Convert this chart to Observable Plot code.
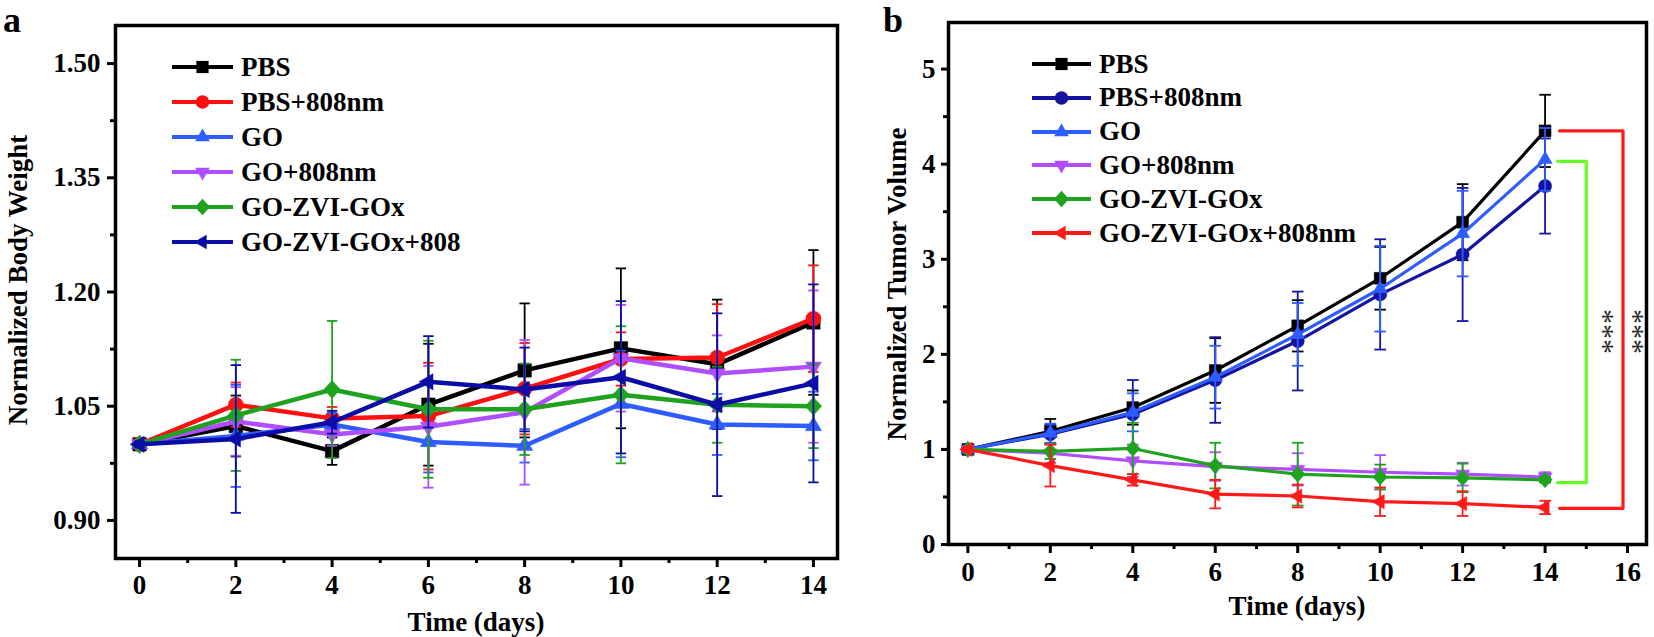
<!DOCTYPE html>
<html><head><meta charset="utf-8">
<script src="https://cdn.jsdelivr.net/npm/d3@7"></script>
<script src="https://cdn.jsdelivr.net/npm/@observablehq/plot@0.6"></script>
<style>
body{margin:0;background:#fff}
#fig{position:relative;width:1654px;height:637px;overflow:hidden;font-family:"Liberation Serif","Times New Roman",serif;font-weight:bold;color:#000;background:#fff}
.panel{position:absolute;top:0}
.t{position:absolute;transform:translate(-50%,-50%);white-space:nowrap;font-size:27px;line-height:1}
.leg{position:absolute;display:flex;align-items:center;height:30px;font-size:27px;white-space:nowrap;line-height:1}
</style></head><body><div id="fig"></div>
<script>
// ---------- data ----------
const days = [0, 2, 4, 6, 8, 10, 12, 14];

// panel a : normalized body weight
const groupsA = ["PBS", "PBS+808nm", "GO", "GO+808nm", "GO-ZVI-GOx", "GO-ZVI-GOx+808"];
const weightPBS      = [1.000, 1.024, 0.991, 1.052, 1.097, 1.126, 1.105, 1.160];
const weightPBSErr   = [0.004, 0.040, 0.018, 0.080, 0.088, 0.105, 0.085, 0.095];
const weightPBSL     = [1.000, 1.052, 1.034, 1.037, 1.073, 1.112, 1.114, 1.165];
const weightPBSLErr  = [0.004, 0.029, 0.015, 0.070, 0.060, 0.035, 0.070, 0.070];
const weightGO       = [1.000, 1.011, 1.026, 1.003, 0.998, 1.053, 1.026, 1.024];
const weightGOErr    = [0.004, 0.067, 0.015, 0.040, 0.022, 0.070, 0.040, 0.045];
const weightGOL      = [1.000, 1.030, 1.013, 1.023, 1.042, 1.113, 1.093, 1.102];
const weightGOLErr   = [0.004, 0.045, 0.015, 0.080, 0.095, 0.070, 0.050, 0.100];
const weightZVI      = [1.000, 1.038, 1.072, 1.046, 1.046, 1.065, 1.052, 1.050];
const weightZVIErr   = [0.004, 0.073, 0.090, 0.090, 0.060, 0.090, 0.050, 0.055];
const weightZVIL     = [1.000, 1.007, 1.029, 1.082, 1.072, 1.088, 1.052, 1.080];
const weightZVILErr  = [0.004, 0.097, 0.015, 0.060, 0.055, 0.100, 0.120, 0.130];

// panel b : normalized tumor volume
const groupsB = ["PBS", "PBS+808nm", "GO", "GO+808nm", "GO-ZVI-GOx", "GO-ZVI-GOx+808nm"];
const volPBS     = [1, 1.19, 1.44, 1.83, 2.30, 2.80, 3.39, 4.35];
const volPBSErr  = [0.02, 0.13, 0.18, 0.34, 0.27, 0.33, 0.40, 0.38];
const volPBSL    = [1, 1.16, 1.37, 1.73, 2.14, 2.63, 3.05, 3.77];
const volPBSLErr = [0.02, 0.10, 0.36, 0.45, 0.52, 0.58, 0.70, 0.50];
const volGO      = [1, 1.17, 1.39, 1.76, 2.21, 2.69, 3.27, 4.05];
const volGOErr   = [0.02, 0.10, 0.20, 0.33, 0.33, 0.45, 0.45, 0.33];
const volGOL     = [1, 0.96, 0.88, 0.82, 0.79, 0.76, 0.74, 0.71];
const volGOLErr  = [0.02, 0.10, 0.17, 0.15, 0.17, 0.18, 0.12, 0.05];
const volZVI     = [1, 0.98, 1.01, 0.83, 0.74, 0.71, 0.70, 0.68];
const volZVIErr  = [0.02, 0.08, 0.27, 0.24, 0.33, 0.13, 0.15, 0.03];
const volZVIL    = [1, 0.83, 0.68, 0.53, 0.51, 0.45, 0.43, 0.39];
const volZVILErr = [0.02, 0.22, 0.06, 0.15, 0.12, 0.15, 0.13, 0.07];

// significance brackets (panel b)
const sigLabels = ["***", "***"];
const sigStart  = [14.3, 14.35];
const sigEnd    = [15.0, 15.89];
const sigTop    = [4.03, 4.35];
const sigBottom = [0.65, 0.38];
const sigStarY  = 2.24;

// ticks
const xTicksA = [0, 2, 4, 6, 8, 10, 12, 14];
const xMinorA = [1, 3, 5, 7, 9, 11, 13];
const yTicksA = [0.90, 1.05, 1.20, 1.35, 1.50];
const yMinorA = [0.975, 1.125, 1.275, 1.425];
const xTicksB = [0, 2, 4, 6, 8, 10, 12, 14, 16];
const xMinorB = [1, 3, 5, 7, 9, 11, 13, 15];
const yTicksB = [0, 1, 2, 3, 4, 5];
const yMinorB = [0.5, 1.5, 2.5, 3.5, 4.5];

// ---------- symbols ----------
const poly = pts => ({draw(ctx, size) {
  const R = Math.sqrt(size / Math.PI);
  ctx.moveTo(pts[0][0] * R, pts[0][1] * R);
  for (let i = 1; i < pts.length; i++) ctx.lineTo(pts[i][0] * R, pts[i][1] * R);
  ctx.closePath();
}});
const SQ = poly([[-0.9, -0.9], [0.9, -0.9], [0.9, 0.9], [-0.9, 0.9]]);
const CI = d3.symbolCircle;
const TU = poly([[0, -1.25], [1.08, 0.62], [-1.08, 0.62]]);
const TD = poly([[0, 1.25], [1.08, -0.62], [-1.08, -0.62]]);
const DI = poly([[0, -1.2], [1.1, 0], [0, 1.2], [-1.1, 0]]);
const TL = poly([[-1.25, 0], [0.62, -1.08], [0.62, 1.08]]);
const CAP = {draw(ctx, size) { const R = Math.sqrt(size / Math.PI); ctx.moveTo(-R, 0); ctx.lineTo(R, 0); }};

const rows = (v, e) => days.map((t, i) => ({t, v: v[i], e: e[i]}));

const seriesA = [
  {name: groupsA[0], v: weightPBS,  e: weightPBSErr,  color: "#000000", sym: SQ},
  {name: groupsA[1], v: weightPBSL, e: weightPBSLErr, color: "#ff1010", sym: CI},
  {name: groupsA[2], v: weightGO,   e: weightGOErr,   color: "#2d5cff", sym: TU},
  {name: groupsA[3], v: weightGOL,  e: weightGOLErr,  color: "#b04dff", sym: TD},
  {name: groupsA[4], v: weightZVI,  e: weightZVIErr,  color: "#1fa31f", sym: DI},
  {name: groupsA[5], v: weightZVIL, e: weightZVILErr, color: "#0c0ca6", sym: TL}
];
const seriesB = [
  {name: groupsB[0], v: volPBS,  e: volPBSErr,  color: "#000000", sym: SQ},
  {name: groupsB[1], v: volPBSL, e: volPBSLErr, color: "#1414a0", sym: CI},
  {name: groupsB[2], v: volGO,   e: volGOErr,   color: "#2d5cff", sym: TU},
  {name: groupsB[3], v: volGOL,  e: volGOLErr,  color: "#b04dff", sym: TD},
  {name: groupsB[4], v: volZVI,  e: volZVIErr,  color: "#1fa31f", sym: DI},
  {name: groupsB[5], v: volZVIL, e: volZVILErr, color: "#ff1a1a", sym: TL}
];

function seriesMarks(s, lw, r, capR, ebw) {
  const d = rows(s.v, s.e);
  return [
    Plot.ruleX(d, {x: "t", y1: q => q.v - q.e, y2: q => q.v + q.e, stroke: s.color, strokeWidth: ebw}),
    Plot.dot(d, {x: "t", y: q => q.v + q.e, symbol: CAP, r: capR, stroke: s.color, strokeWidth: ebw, fill: "none"}),
    Plot.dot(d, {x: "t", y: q => q.v - q.e, symbol: CAP, r: capR, stroke: s.color, strokeWidth: ebw, fill: "none"}),
    Plot.line(d, {x: "t", y: "v", stroke: s.color, strokeWidth: lw}),
    Plot.dot(d, {x: "t", y: "v", symbol: s.sym, r: r, fill: s.color, stroke: s.color, strokeWidth: 0.5})
  ];
}

function axes(xt, xm, yt, ym, fmtY, padX, padY, tsY) {
  return [
    Plot.axisX(xt, {tickSize: 9, tickPadding: padX, strokeWidth: 3, fontSize: 27, fontWeight: "bold", label: null, tickFormat: d => String(d)}),
    Plot.axisX(xm, {tickSize: 5, strokeWidth: 3, label: null, tickFormat: () => ""}),
    Plot.axisY(yt, {tickSize: tsY, tickPadding: padY, strokeWidth: 3, fontSize: 27, fontWeight: "bold", label: null, tickFormat: fmtY}),
    Plot.axisY(ym, {tickSize: 5, strokeWidth: 3, label: null, tickFormat: () => ""})
  ];
}

const fig = document.getElementById("fig");
const baseStyle = {fontFamily: "'Liberation Serif','Times New Roman',serif", fontWeight: "bold", fontSize: "27px", background: "transparent", color: "#000", overflow: "visible"};

// ---------- panel a ----------
const plotA = Plot.plot({
  width: 860, height: 637,
  marginLeft: 115, marginRight: 23, marginTop: 25, marginBottom: 79,
  x: {domain: [-0.5, 14.5]},
  y: {domain: [0.85, 1.55]},
  style: baseStyle,
  marks: [
    ...axes(xTicksA, xMinorA, yTicksA, yMinorA, d3.format(".2f"), 7, 7, 8),
    ...seriesA.flatMap(s => seriesMarks(s, 4.5, 7.5, 5.2, 1.8)),
    Plot.frame({strokeWidth: 3.5, stroke: "#000"})
  ]
});
const divA = document.createElement("div");
divA.className = "panel"; divA.style.left = "0px";
divA.appendChild(plotA); fig.appendChild(divA);

// ---------- panel b ----------
const bracketPts = sigLabels.flatMap((lab, i) => [
  {k: i, x: sigStart[i], y: sigTop[i]},
  {k: i, x: sigEnd[i], y: sigTop[i]},
  {k: i, x: sigEnd[i], y: sigBottom[i]},
  {k: i, x: sigStart[i], y: sigBottom[i]}
]);
const bracketColors = ["#66ff22", "#ff1a1a"];
const starOffsets = [17, 11];
const plotB = Plot.plot({
  width: 794, height: 637,
  marginLeft: 88, marginRight: 8, marginTop: 22, marginBottom: 93,
  x: {domain: [-0.47, 16.46]},
  y: {domain: [0, 5.49]},
  style: baseStyle,
  marks: [
    ...axes(xTicksB, xMinorB, yTicksB, yMinorB, d => String(d), 8, 6, 7),
    ...seriesB.flatMap(s => seriesMarks(s, 3.2, 6.6, 5.8, 1.8)),
    ...sigLabels.map((lab, i) => Plot.line(bracketPts.filter(p => p.k === i), {x: "x", y: "y", stroke: bracketColors[i], strokeWidth: 3.2})),
    ...sigLabels.map((lab, i) => Plot.text([lab], {x: () => sigEnd[i], y: () => sigStarY, text: d => d, dx: starOffsets[i], rotate: 90, fontSize: 30, fontWeight: "normal", fill: "#2a2a2a"})),
    Plot.frame({strokeWidth: 3.5, stroke: "#000"})
  ]
});
const divB = document.createElement("div");
divB.className = "panel"; divB.style.left = "860px";
divB.appendChild(plotB); fig.appendChild(divB);

// ---------- text labels ----------
function addText(txt, x, y, opts = {}) {
  const el = document.createElement("div");
  el.className = "t";
  el.textContent = txt;
  el.style.left = x + "px"; el.style.top = y + "px";
  if (opts.rotate) el.style.transform = `translate(-50%,-50%) rotate(${opts.rotate}deg)`;
  if (opts.size) el.style.fontSize = opts.size + "px";
  fig.appendChild(el);
}
addText("a", 12, 20, {size: 36});
addText("b", 893, 20, {size: 36});
addText("Normalized Body Weight", 18, 280, {rotate: -90});
addText("Normalized Tumor Volume", 897, 284, {rotate: -90});
addText("Time (days)", 476, 622);
addText("Time (days)", 1297, 606);

// ---------- legends ----------
function legend(series, left, top0, step, lineW, gap, size) {
  series.forEach((s, i) => {
    const row = document.createElement("div");
    row.className = "leg";
    row.style.left = left + "px";
    row.style.top = (top0 + i * step - 15) + "px";
    const svg = d3.create("svg").attr("width", lineW).attr("height", 30);
    svg.append("line").attr("x1", 0).attr("x2", lineW).attr("y1", 15).attr("y2", 15)
      .attr("stroke", s.color).attr("stroke-width", 4);
    svg.append("path").attr("d", d3.symbol(s.sym, size)())
      .attr("transform", `translate(${lineW / 2},15)`).attr("fill", s.color);
    row.appendChild(svg.node());
    const sp = document.createElement("span");
    sp.textContent = s.name;
    sp.style.marginLeft = gap + "px";
    row.appendChild(sp);
    fig.appendChild(row);
  });
}
legend(seriesA, 172, 67, 35, 61, 8, Math.PI * 46);
legend(seriesB, 1032, 64, 33.8, 59, 8, Math.PI * 46);
</script></body></html>
